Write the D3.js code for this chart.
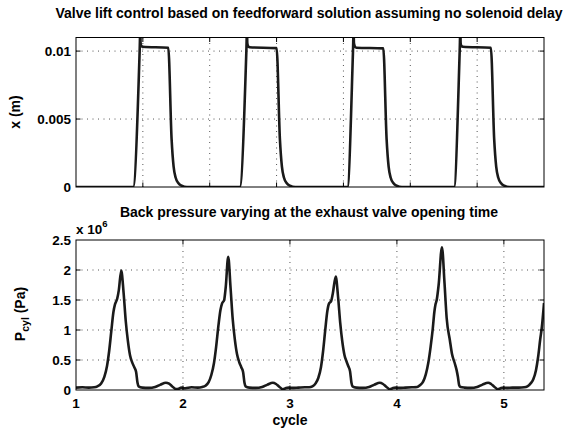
<!DOCTYPE html>
<html>
<head>
<meta charset="utf-8">
<script src="https://cdn.jsdelivr.net/npm/d3@7"></script>
<style>
  body { margin: 0; background: #fff; }
  svg { font-family: "Liberation Sans", Arial, sans-serif; font-weight: bold; }
  .frame { fill: none; stroke: #000; stroke-width: 1; }
  .gridline { stroke: #555; stroke-width: 1; stroke-dasharray: 1,4.5; }
  .tick-mark { stroke: #000; stroke-width: 1; }
  .tick-label { font-size: 13.5px; fill: #000; }
  .trace { fill: none; stroke: #1a1a1a; stroke-width: 2.6; stroke-linejoin: round; }
  .title { font-size: 14px; fill: #000; }
  .axis-label { font-size: 14px; fill: #000; }
</style>
</head>
<body>
<div id="chart"></div>
<script>
// ---- data ----

// valve lift, [time (s), lift (m)]
const liftData = [
  [0, 0], [0.00855, 0], [0.00952, 0.0100], [0.00962, 0.0116], [0.00966, 0.0106], [0.00975, 0.0104],
  [0.0100, 0.01032], [0.0138, 0.01025], [0.0143, 0.0035], [0.0146, 0.0015], [0.0149, 0.0007],
  [0.0153, 0.0003], [0.0158, 0.0001], [0.0166, 0],
  [0.02450, 0], [0.02548, 0.0100], [0.02558, 0.0116], [0.02562, 0.0106], [0.02571, 0.0104],
  [0.02596, 0.01028], [0.03000, 0.01022], [0.03050, 0.0035], [0.03080, 0.0015], [0.03110, 0.0007],
  [0.03150, 0.0003], [0.03200, 0.0001], [0.03280, 0],
  [0.04060, 0], [0.04143, 0.0100], [0.04153, 0.0116], [0.04157, 0.0106], [0.04166, 0.0104],
  [0.04191, 0.01025], [0.04596, 0.01020], [0.04646, 0.0035], [0.04676, 0.0015], [0.04706, 0.0007],
  [0.04746, 0.0003], [0.04796, 0.0001], [0.04876, 0],
  [0.05655, 0], [0.05739, 0.0100], [0.05749, 0.0116], [0.05753, 0.0106], [0.05762, 0.0104],
  [0.05787, 0.01032], [0.06205, 0.01025], [0.06255, 0.0035], [0.06285, 0.0015], [0.06315, 0.0007],
  [0.06355, 0.0003], [0.06405, 0.0001], [0.06485, 0], [0.07, 0]
];

// cylinder pressure, [cycle, pressure (x 10^6 Pa)]
const pressureData = [
  [1.00, 0.04], [1.06, 0.045], [1.12, 0.04], [1.17, 0.045], [1.20, 0.06], [1.235, 0.11], [1.265, 0.22],
  [1.29, 0.40], [1.31, 0.65], [1.33, 0.98], [1.35, 1.30], [1.365, 1.43], [1.385, 1.52], [1.40, 1.66],
  [1.423, 1.99], [1.445, 1.62], [1.465, 1.15], [1.485, 0.82], [1.505, 0.58], [1.525, 0.46], [1.545, 0.38],
  [1.562, 0.30], [1.575, 0.12], [1.585, 0.06], [1.62, 0.04], [1.68, 0.035], [1.74, 0.05], [1.79, 0.09],
  [1.84, 0.12], [1.87, 0.105], [1.90, 0.06], [1.935, 0.015], [1.96, 0.02], [1.985, 0.04],
  [2.02, 0.03], [2.08, 0.045], [2.14, 0.04], [2.18, 0.05], [2.21, 0.07], [2.24, 0.13], [2.265, 0.25],
  [2.29, 0.45], [2.31, 0.72], [2.33, 1.05], [2.35, 1.33], [2.365, 1.44], [2.385, 1.50], [2.40, 1.72],
  [2.423, 2.22], [2.445, 1.70], [2.465, 1.18], [2.485, 0.84], [2.505, 0.60], [2.525, 0.47], [2.545, 0.38],
  [2.562, 0.30], [2.575, 0.12], [2.585, 0.06], [2.62, 0.04], [2.68, 0.035], [2.74, 0.05], [2.79, 0.09],
  [2.84, 0.12], [2.87, 0.10], [2.90, 0.055], [2.935, 0.012], [2.96, 0.03], [2.985, 0.04],
  [3.02, 0.035], [3.08, 0.04], [3.14, 0.045], [3.18, 0.045], [3.21, 0.06], [3.24, 0.11], [3.265, 0.20],
  [3.29, 0.38], [3.31, 0.65], [3.33, 1.00], [3.35, 1.32], [3.365, 1.44], [3.385, 1.48], [3.40, 1.60],
  [3.428, 1.89], [3.45, 1.55], [3.47, 1.12], [3.49, 0.80], [3.51, 0.58], [3.53, 0.47], [3.545, 0.40],
  [3.562, 0.31], [3.575, 0.12], [3.585, 0.06], [3.62, 0.04], [3.68, 0.035], [3.74, 0.05], [3.79, 0.09],
  [3.84, 0.12], [3.87, 0.10], [3.90, 0.055], [3.935, 0.012], [3.96, 0.03], [3.985, 0.04],
  [4.02, 0.035], [4.08, 0.04], [4.14, 0.045], [4.19, 0.05], [4.215, 0.08], [4.245, 0.14], [4.27, 0.26],
  [4.293, 0.45], [4.315, 0.72], [4.335, 1.02], [4.35, 1.30], [4.36, 1.42], [4.372, 1.50], [4.39, 1.75],
  [4.421, 2.38], [4.445, 1.78], [4.465, 1.20], [4.495, 0.83], [4.515, 0.60], [4.54, 0.45], [4.557, 0.34],
  [4.57, 0.22], [4.582, 0.08], [4.595, 0.05], [4.63, 0.04], [4.69, 0.035], [4.75, 0.05], [4.80, 0.09],
  [4.853, 0.12], [4.88, 0.10], [4.91, 0.055], [4.945, 0.012], [4.97, 0.03], [4.995, 0.04],
  [5.03, 0.035], [5.08, 0.04], [5.14, 0.04], [5.19, 0.045], [5.22, 0.06], [5.25, 0.11], [5.275, 0.18],
  [5.30, 0.33], [5.32, 0.55], [5.34, 0.85], [5.355, 1.05], [5.375, 1.45]
];

const timeTicks = [0, 0.01, 0.02, 0.03, 0.04, 0.05, 0.06, 0.07];
const liftTicks = [0, 0.005, 0.01];
const liftTickLabels = ["0", "0.005", "0.01"];
const cycleTicks = [1, 2, 3, 4, 5];
const cycleTickLabels = ["1", "2", "3", "4", "5"];
const pressureTicks = [0, 0.5, 1, 1.5, 2, 2.5];
const pressureTickLabels = ["0", "0.5", "1", "1.5", "2", "2.5"];

// ---- panel ----
class SignalPanel {

  constructor(_config) {
    this.config = _config;
    this.initVis();
  }

  initVis() {
    let vis = this;
    let c = vis.config;

    vis.width = c.x1 - c.x0;
    vis.height = c.y1 - c.y0;

    vis.g = c.svg.append("g")
        .attr("transform", "translate(" + c.x0 + "," + c.y0 + ")");

    vis.xScale = d3.scaleLinear().domain(c.xDomain).range([0, vis.width]);
    vis.yScale = d3.scaleLinear().domain(c.yDomain).range([vis.height, 0]);

    vis.g.append("clipPath").attr("id", c.id + "-clip")
      .append("rect")
        .attr("width", vis.width)
        .attr("height", vis.height);

    vis.updateVis();
  }

  updateVis() {
    let vis = this;
    let c = vis.config;
    let tickLen = 4.5;

    // grid lines (skip the ones sitting on the frame)
    let innerX = c.xTicks.filter(d => d > c.xDomain[0] && d < c.xDomain[1]);
    let innerY = c.yTicks.filter(d => d > c.yDomain[0] && d < c.yDomain[1]);

    vis.g.selectAll(".gridline-x")
        .data(innerX)
      .join("line")
        .attr("class", "gridline gridline-x")
        .attr("x1", d => vis.xScale(d))
        .attr("x2", d => vis.xScale(d))
        .attr("y1", 0)
        .attr("y2", vis.height);

    vis.g.selectAll(".gridline-y")
        .data(innerY)
      .join("line")
        .attr("class", "gridline gridline-y")
        .attr("y1", d => vis.yScale(d))
        .attr("y2", d => vis.yScale(d))
        .attr("x1", 0)
        .attr("x2", vis.width);

    // the trace
    let line = d3.line()
        .x(d => vis.xScale(d[0]))
        .y(d => vis.yScale(d[1]))
        .curve(d3.curveMonotoneX);

    vis.g.append("path")
        .datum(c.data)
        .attr("class", "trace")
        .attr("clip-path", "url(#" + c.id + "-clip)")
        .attr("d", line);

    // inward ticks on all four sides
    let xt = vis.g.selectAll(".tick-x")
        .data(innerX)
      .join("g")
        .attr("class", "tick-x");
    xt.append("line").attr("class", "tick-mark")
        .attr("x1", d => vis.xScale(d)).attr("x2", d => vis.xScale(d))
        .attr("y1", vis.height).attr("y2", vis.height - tickLen);
    xt.append("line").attr("class", "tick-mark")
        .attr("x1", d => vis.xScale(d)).attr("x2", d => vis.xScale(d))
        .attr("y1", 0).attr("y2", tickLen);

    let yt = vis.g.selectAll(".tick-y")
        .data(innerY)
      .join("g")
        .attr("class", "tick-y");
    yt.append("line").attr("class", "tick-mark")
        .attr("y1", d => vis.yScale(d)).attr("y2", d => vis.yScale(d))
        .attr("x1", 0).attr("x2", tickLen);
    yt.append("line").attr("class", "tick-mark")
        .attr("y1", d => vis.yScale(d)).attr("y2", d => vis.yScale(d))
        .attr("x1", vis.width).attr("x2", vis.width - tickLen);

    // frame
    vis.g.append("rect")
        .attr("class", "frame")
        .attr("width", vis.width)
        .attr("height", vis.height);

    // tick labels
    vis.g.selectAll(".ylab")
        .data(c.yTicks)
      .join("text")
        .attr("class", "tick-label ylab")
        .attr("text-anchor", "end")
        .attr("x", -5)
        .attr("y", d => vis.yScale(d))
        .attr("dy", "0.36em")
        .text((d, i) => c.yLabels[i]);

    if (c.xLabels) {
      vis.g.selectAll(".xlab")
          .data(c.xTicks)
        .join("text")
          .attr("class", "tick-label xlab")
          .attr("text-anchor", "middle")
          .attr("x", d => vis.xScale(d))
          .attr("y", vis.height + 17.5)
          .text((d, i) => c.xLabels[i]);
    }
  }
}

const svg = d3.select("#chart").append("svg")
    .attr("width", 566)
    .attr("height", 436);

const liftPanel = new SignalPanel({
  svg: svg, id: "lift",
  x0: 76, x1: 544, y0: 37.5, y1: 187,
  xDomain: [0, 0.07], yDomain: [0, 0.011],
  xTicks: timeTicks, xLabels: null,
  yTicks: liftTicks, yLabels: liftTickLabels,
  data: liftData
});

const pressurePanel = new SignalPanel({
  svg: svg, id: "pressure",
  x0: 76, x1: 544, y0: 240, y1: 390,
  xDomain: [1, 5.375], yDomain: [0, 2.5],
  xTicks: cycleTicks, xLabels: cycleTickLabels,
  yTicks: pressureTicks, yLabels: pressureTickLabels,
  data: pressureData
});

// titles and axis labels
svg.append("text").attr("class", "title")
    .attr("x", 309).attr("y", 18)
    .attr("text-anchor", "middle")
    .text("Valve lift control based on feedforward solution assuming no solenoid delay");

svg.append("text").attr("class", "title")
    .attr("x", 309).attr("y", 217)
    .attr("text-anchor", "middle")
    .text("Back pressure varying at the exhaust valve opening time");

let expo = svg.append("text").attr("class", "tick-label")
    .attr("x", 76).attr("y", 234);
expo.append("tspan").text("x 10");
expo.append("tspan").attr("font-size", "9.5px").attr("dy", -7).text("6");

svg.append("text").attr("class", "axis-label")
    .attr("transform", "translate(20,112) rotate(-90)")
    .attr("text-anchor", "middle")
    .text("x (m)");

let pLabel = svg.append("text").attr("class", "axis-label")
    .attr("transform", "translate(25,314) rotate(-90)")
    .attr("text-anchor", "middle");
pLabel.append("tspan").text("P");
pLabel.append("tspan").attr("font-size", "10.5px").attr("dy", 4).text("cyl");
pLabel.append("tspan").attr("dy", -4).text(" (Pa)");

svg.append("text").attr("class", "axis-label")
    .attr("x", 290).attr("y", 424.5)
    .attr("text-anchor", "middle")
    .text("cycle");
</script>
</body>
</html>
